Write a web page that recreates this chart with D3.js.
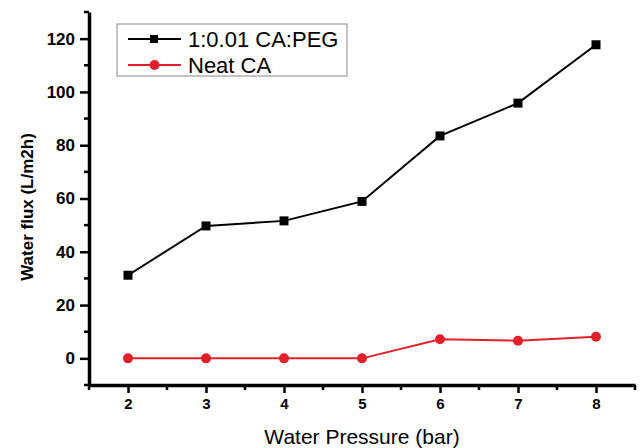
<!DOCTYPE html>
<html>
<head>
<meta charset="utf-8">
<script src="https://cdn.jsdelivr.net/npm/d3@7"></script>
<style>
body { margin:0; background:#fff; }
svg { font-family: Arial, "Liberation Sans", sans-serif; }
.axis path, .axis line { stroke:#000; }
</style>
</head>
<body>
<svg></svg>
<script>
// pressures (bar)
var pressures = [2, 3, 4, 5, 6, 7, 8];
// water flux values
var pegFlux = [31.2, 49.7, 51.6, 58.9, 83.5, 95.8, 117.7];
var neatFlux = [0, 0, 0, 0, 7.2, 6.6, 8.1];
var seriesNames = ["1:0.01 CA:PEG", "Neat CA"];
var xTicks = [2, 3, 4, 5, 6, 7, 8];
var yTicks = [0, 20, 40, 60, 80, 100, 120];

var screen = {width:643, height:448};
var margins = {left:89, right:8, top:12, bottom:63};
var graph = {
    width: screen.width - margins.left - margins.right,
    height: screen.height - margins.top - margins.bottom
};

var svg = d3.select("svg")
    .attr("width", screen.width)
    .attr("height", screen.height);

var xScale = d3.scaleLinear()
    .domain([1.5, 8.5])
    .range([0, graph.width]);

var yScale = d3.scaleLinear()
    .domain([-10, 130])
    .range([graph.height, 0]);

var target = svg.append("g")
    .attr("transform", "translate(" + margins.left + "," + margins.top + ")");

// minor ticks
var xMinor = d3.range(1.5, 8.51, 0.5).filter(function(v){ return xTicks.indexOf(v) < 0; });
var yMinor = d3.range(-10, 131, 10).filter(function(v){ return yTicks.indexOf(v) < 0; });

target.append("g")
    .attr("transform", "translate(0," + graph.height + ")")
    .selectAll("line").data(xMinor).enter().append("line")
    .attr("x1", function(d){ return xScale(d); })
    .attr("x2", function(d){ return xScale(d); })
    .attr("y1", 0).attr("y2", 5)
    .attr("stroke", "#000").attr("stroke-width", 2.5);

target.append("g")
    .selectAll("line").data(yMinor).enter().append("line")
    .attr("x1", 0).attr("x2", -5)
    .attr("y1", function(d){ return yScale(d); })
    .attr("y2", function(d){ return yScale(d); })
    .attr("stroke", "#000").attr("stroke-width", 2.5);

var xAxis = target.append("g")
    .attr("class", "axis")
    .attr("transform", "translate(0," + graph.height + ")")
    .call(d3.axisBottom(xScale).tickValues(xTicks).tickFormat(d3.format("d"))
        .tickSize(8).tickSizeOuter(0).tickPadding(5));

var yAxis = target.append("g")
    .attr("class", "axis")
    .call(d3.axisLeft(yScale).tickValues(yTicks).tickFormat(d3.format("d"))
        .tickSize(9).tickSizeOuter(0).tickPadding(5));

[xAxis, yAxis].forEach(function(a){
    a.attr("font-size", null).attr("font-family", null);
    a.select(".domain").attr("stroke-width", 3.5);
    a.selectAll(".tick line").attr("stroke-width", 2.5);
    a.selectAll(".tick text")
        .style("font-weight", "bold")
        .attr("fill", "#000");
});
xAxis.selectAll(".tick text").style("font-size", "15px");
yAxis.selectAll(".tick text").style("font-size", "17px");

// lines
var lineGenerator = d3.line()
    .x(function(d, i){ return xScale(pressures[i]); })
    .y(function(d){ return yScale(d); });

target.append("path")
    .datum(pegFlux)
    .attr("d", lineGenerator)
    .attr("fill", "none")
    .attr("stroke", "#000")
    .attr("stroke-width", 2);

target.append("path")
    .datum(neatFlux)
    .attr("d", lineGenerator)
    .attr("fill", "none")
    .attr("stroke", "#e0202a")
    .attr("stroke-width", 2);

target.selectAll(".sq").data(pegFlux).enter().append("rect")
    .attr("x", function(d, i){ return xScale(pressures[i]) - 4.5; })
    .attr("y", function(d){ return yScale(d) - 4.5; })
    .attr("width", 9).attr("height", 9)
    .attr("fill", "#000");

target.selectAll(".dot").data(neatFlux).enter().append("circle")
    .attr("cx", function(d, i){ return xScale(pressures[i]); })
    .attr("cy", function(d){ return yScale(d); })
    .attr("r", 5)
    .attr("fill", "#e0202a");

// legend
var legend = svg.append("g").attr("transform", "translate(117,24)");
legend.append("rect")
    .attr("width", 230).attr("height", 52)
    .attr("fill", "#fff")
    .attr("stroke", "#888").attr("stroke-width", 1);

var colors = ["#000", "#e0202a"];
seriesNames.forEach(function(name, i){
    var y = 15 + i * 26;
    legend.append("line")
        .attr("x1", 11).attr("x2", 64).attr("y1", y).attr("y2", y)
        .attr("stroke", colors[i]).attr("stroke-width", 2);
    if (i == 0) {
        legend.append("rect").attr("x", 33).attr("y", y - 4).attr("width", 8).attr("height", 8).attr("fill", "#000");
    } else {
        legend.append("circle").attr("cx", 37.5).attr("cy", y).attr("r", 5).attr("fill", colors[i]);
    }
    legend.append("text")
        .text(name)
        .attr("x", 71).attr("y", y + 8)
        .style("font-size", "22px")
        .attr("fill", "#000");
});

// labels
svg.append("text")
    .text("Water Pressure (bar)")
    .attr("text-anchor", "middle")
    .attr("x", 362).attr("y", 444)
    .style("font-size", "21px")
    .attr("fill", "#000");

svg.append("g")
    .attr("transform", "translate(33,207)")
    .append("text")
    .text("Water flux (L/m2h)")
    .attr("text-anchor", "middle")
    .attr("transform", "rotate(-90)")
    .style("font-size", "17px")
    .style("font-weight", "bold")
    .attr("fill", "#000");
</script>
</body>
</html>
